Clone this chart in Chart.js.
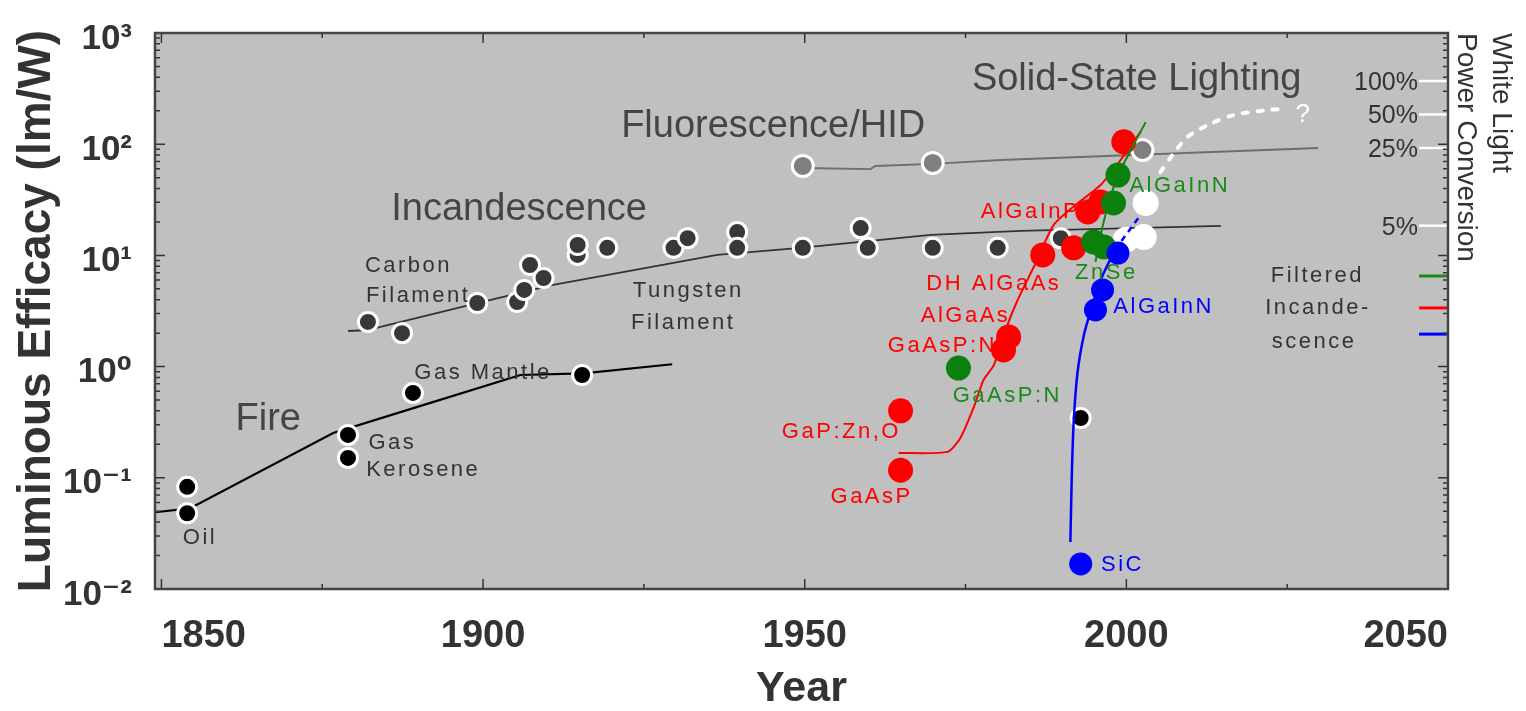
<!DOCTYPE html>
<html>
<head>
<meta charset="utf-8">
<script src="https://cdn.jsdelivr.net/npm/chart.js@4.4.1/dist/chart.umd.min.js"></script>
<style>
  html, body { margin: 0; background: #fff; }
  #wrap { width: 1526px; height: 711px; }
</style>
</head>
<body>
<div id="wrap"><canvas id="efficacyChart" width="1526" height="711"></canvas></div>
<script>
// ---- axis ticks ----
const xTickYears = [1850, 1875, 1900, 1925, 1950, 1975, 2000, 2025, 2050];
const xLabelYears = [1850, 1900, 1950, 2000, 2050];
const yDecades = [0.01, 0.1, 1, 10, 100, 1000];
const yDecadeLabels = ["10\u207B\u00B2", "10\u207B\u00B9", "10\u2070", "10\u00B9", "10\u00B2", "10\u00B3"];
const pctValues = [370, 185, 92.5, 18.5];
const pctLabels = ["100%", "50%", "25%", "5%"];

// ---- Fire ----
const fireLineYears = [1849, 1854.4, 1876.7, 1889.8, 1905.8, 1915.6, 1929.4];
const fireLineValues = [0.049, 0.053, 0.253, 0.434, 0.84, 0.87, 1.05];
const fireDotYears = [1854, 1854, 1879, 1879, 1889.1, 1915.4, 1992.9];
const fireDotValues = [0.083, 0.048, 0.243, 0.151, 0.58, 0.84, 0.345];

// ---- Incandescence ----
const incLineYears = [1879.0, 1882.0, 1899.1, 1910.9, 1936.4, 1949.3, 1969.6, 1983.6, 2014.7];
const incLineValues = [2.09, 2.13, 3.73, 5.42, 10.1, 11.7, 15.3, 16.6, 18.4];
const incDotYears = [1882.1, 1887.4, 1899.1, 1905.3, 1906.4, 1907.3, 1909.4, 1914.7, 1914.7, 1919.3,
                     1929.6, 1931.8, 1939.5, 1939.5, 1949.7, 1958.7, 1959.8, 1969.9, 1980.0, 1989.8];
const incDotValues = [2.52, 2.0, 3.73, 3.81, 4.89, 8.2, 6.26, 10.1, 12.4, 11.7,
                      11.7, 14.3, 16.2, 11.7, 11.7, 17.6, 11.7, 11.7, 11.7, 14.3];

// ---- Fluorescence / HID ----
const fluLineYears = [1949.7, 1960.2, 1961.0, 1969.9, 1980.5, 2029.8];
const fluLineValues = [61.1, 59.8, 63.7, 66.5, 72.1, 92.4];
const fluDotYears = [1949.7, 1969.9, 2002.5];
const fluDotValues = [63.7, 67.8, 88.7];

// ---- Solid-state lighting ----
const futureYears = [2005.3, 2007.4, 2009.5, 2012.7, 2016.7, 2022.0, 2024.3];
const futureValues = [56.2, 83.4, 116, 149, 183, 203, 208];
const whiteDotYears = [2003.0, 2002.7, 1999.9];
const whiteDotValues = [29.6, 14.6, 13.8];

const redLineYears = [1964.6, 1972.2, 1974.2, 1976.3, 1977.8, 1979.4, 1981.2, 1983.1, 1985.6, 1988.7, 1992.1, 1996.0, 1999.1, 2002.2];
const redLineValues = [0.167, 0.171, 0.228, 0.434, 0.759, 1.03, 2.13, 3.97, 7.87, 18.8, 28.4, 43.0, 72.1, 129];
const redDotYears = [1964.9, 1964.9, 1980.9, 1981.7, 1987.0, 1991.8, 1994.0, 1996.0, 1999.6];
const redDotValues = [0.117, 0.4, 1.41, 1.85, 10.1, 11.7, 24.6, 30.2, 105];

const greenLineYears = [1995.2, 1996.0, 1997.6, 1999.1, 2003.0];
const greenLineValues = [8.73, 15.3, 34.9, 58.6, 158];
const greenDotYears = [1973.9, 1994.9, 1996.5, 1998.0, 1998.7];
const greenDotValues = [0.97, 13.2, 11.9, 29.6, 52.8];

const blueLineYears = [1991.3, 1991.5, 1991.8, 1992.4, 1993.4, 1994.5, 1996.0, 1998.3, 2002.2];
const blueLineValues = [0.0265, 0.0955, 0.311, 0.875, 1.92, 3.23, 6.0, 11.2, 23.1];
const blueDotYears = [1992.9, 1995.2, 1996.3, 1998.7];
const blueDotValues = [0.0168, 3.23, 4.89, 10.5];

// ---- right-hand key ----
const keyYears = [2045.5, 2050];
const keyValues = [6.53, 3.37, 1.96];

// ---- annotations (anchored in data coordinates) ----
const annoTexts = ["Fire", "Incandescence", "Fluorescence/HID", "Solid-State Lighting",
  "Oil", "Gas", "Kerosene", "Gas Mantle", "Carbon", "Filament", "Tungsten", "Filament",
  "Filtered", "Incande-", "scence",
  "AlGaInP", "DH AlGaAs", "AlGaAs", "GaAsP:N", "GaP:Zn,O", "GaAsP",
  "AlGaInN", "ZnSe", "GaAsP:N",
  "AlGaInN", "SiC", "?"];
const annoYears = [1866.6, 1905.6, 1945.1, 2001.6,
  1856.0, 1885.9, 1890.7, 1900.0, 1888.4, 1889.9, 1931.9, 1931.1,
  2029.7, 2029.8, 2029.2,
  1985.1, 1979.4, 1975.0, 1971.4, 1955.7, 1960.4,
  2008.3, 1996.9, 1981.5,
  2005.8, 1999.4, 2027.4];
const annoValues = [0.331, 25.6, 143, 378,
  0.0288, 0.206, 0.117, 0.875, 8.03, 4.31, 4.79, 2.47,
  6.53, 3.37, 1.66,
  24.6, 5.53, 2.85, 1.53, 0.258, 0.0671,
  42.1, 6.95, 0.545,
  3.44, 0.0164, 183];
const annoKinds = ["big", "big", "big", "big",
  "small", "small", "small", "small", "small", "small", "small", "small",
  "small", "small", "small",
  "red", "red", "red", "red", "red", "red",
  "green", "green", "green",
  "blue", "blue", "white"];

const FONT = "'Liberation Sans', Arial, 'DejaVu Sans', sans-serif";
const annoStyles = {
  big:   { color: "#454545", size: 38, spacing: "0px" },
  small: { color: "#333333", size: 22, spacing: "2.5px" },
  red:   { color: "#ff0000", size: 22, spacing: "2.5px" },
  green: { color: "#1a8a1a", size: 22, spacing: "2.5px" },
  blue:  { color: "#0000ff", size: 22, spacing: "2.5px" },
  white: { color: "#ffffff", size: 26, spacing: "0px" },
};

function pts(xs, ys) {
  return xs.map((x, i) => ({ x: x, y: ys[i] }));
}

function lineSet(xs, ys, color, width, extra) {
  return Object.assign({
    data: pts(xs, ys),
    showLine: true,
    borderColor: color,
    borderWidth: width,
    pointRadius: 0,
    tension: 0.2,
    fill: false,
  }, extra || {});
}

function dotSet(xs, ys, color, radius, ring) {
  return {
    data: pts(xs, ys),
    showLine: false,
    pointRadius: radius,
    backgroundColor: color,
    borderColor: ring ? "#ffffff" : color,
    borderWidth: ring ? 3 : 0,
  };
}

// minor log ticks: 1..9 x each decade
const yTickValues = [];
yDecades.slice(0, -1).forEach(d => {
  for (let m = 1; m <= 9; m++) yTickValues.push(+(d * m).toPrecision(3));
});
yTickValues.push(1000);

// bottom -> top
const layers = [
  lineSet(fireLineYears, fireLineValues, "#000000", 2.2, { tension: 0 }),
  lineSet(incLineYears, incLineValues, "#333333", 1.8, { tension: 0 }),
  lineSet(fluLineYears, fluLineValues, "#6e6e6e", 1.8, { tension: 0 }),
  ...pctValues.map(v => lineSet(keyYears, [v, v], "#ffffff", 2.5, { tension: 0 })),
  lineSet(keyYears, [keyValues[0], keyValues[0]], "#1a8a1a", 3, { tension: 0 }),
  lineSet(keyYears, [keyValues[1], keyValues[1]], "#ff0000", 3, { tension: 0 }),
  lineSet(keyYears, [keyValues[2], keyValues[2]], "#0000ff", 3, { tension: 0 }),
  dotSet(fireDotYears, fireDotValues, "#000000", 9.5, true),
  dotSet(incDotYears, incDotValues, "#383838", 9.5, true),
  dotSet(fluDotYears, fluDotValues, "#808080", 10.5, true),
  dotSet(whiteDotYears, whiteDotValues, "#ffffff", 13, false),
  lineSet(futureYears, futureValues, "#ffffff", 4, { borderDash: [5, 10], borderCapStyle: "round", tension: 0.3 }),
  lineSet(redLineYears, redLineValues, "#ff0000", 2),
  dotSet(redDotYears, redDotValues, "#ff0000", 12.5, false),
  lineSet(greenLineYears, greenLineValues, "#118811", 2),
  dotSet(greenDotYears, greenDotValues, "#0c800c", 12.5, false),
  lineSet(blueLineYears, blueLineValues, "#0000ff", 2.5, {
    segment: { borderDash: c => (c.p0DataIndex >= 7 ? [6, 5] : undefined) },
  }),
  dotSet(blueDotYears, blueDotValues, "#0000ff", 11.5, false),
];
layers.forEach((d, i) => { d.order = layers.length - i; });

// plot background, frame, inward tick marks, percent labels and text annotations
const framePlugin = {
  id: "frame",
  beforeDraw(chart) {
    const { ctx, chartArea: a } = chart;
    ctx.save();
    ctx.fillStyle = "#c0c0c0";
    ctx.fillRect(a.left, a.top, a.right - a.left, a.bottom - a.top);
    ctx.restore();
  },
  afterDatasetsDraw(chart) {
    const { ctx, chartArea: a, scales } = chart;
    ctx.save();

    // ticks pointing into the plot
    ctx.strokeStyle = "#333333";
    ctx.lineWidth = 1.5;
    ctx.beginPath();
    scales.x.ticks.forEach(t => {
      const px = scales.x.getPixelForValue(t.value);
      const len = xLabelYears.includes(t.value) ? 10 : 5;
      ctx.moveTo(px, a.bottom); ctx.lineTo(px, a.bottom - len);
      ctx.moveTo(px, a.top); ctx.lineTo(px, a.top + len);
    });
    scales.y.ticks.forEach(t => {
      const py = scales.y.getPixelForValue(t.value);
      const len = yDecades.includes(t.value) ? 10 : 5;
      ctx.moveTo(a.left, py); ctx.lineTo(a.left + len, py);
      ctx.moveTo(a.right, py); ctx.lineTo(a.right - len, py);
    });
    ctx.stroke();

    ctx.strokeStyle = "#444444";
    ctx.lineWidth = 2.5;
    ctx.strokeRect(a.left, a.top, a.right - a.left, a.bottom - a.top);

    // percent labels of the right axis, inside the plot
    ctx.font = "25px " + FONT;
    ctx.fillStyle = "#333333";
    ctx.textAlign = "right";
    ctx.textBaseline = "middle";
    scales.y2.ticks.forEach(t => {
      ctx.fillText(t.label, a.right - 30, scales.y2.getPixelForValue(t.value) + 2);
    });

    // annotations
    ctx.textAlign = "center";
    annoTexts.forEach((txt, i) => {
      const st = annoStyles[annoKinds[i]];
      ctx.font = st.size + "px " + FONT;
      ctx.fillStyle = st.color;
      if ("letterSpacing" in ctx) ctx.letterSpacing = st.spacing;
      ctx.fillText(txt, scales.x.getPixelForValue(annoYears[i]), scales.y.getPixelForValue(annoValues[i]));
    });
    if ("letterSpacing" in ctx) ctx.letterSpacing = "0px";
    ctx.restore();
  },
};

Chart.defaults.font.family = FONT;

new Chart(document.getElementById("efficacyChart"), {
  type: "scatter",
  data: { datasets: layers },
  options: {
    responsive: false,
    animation: false,
    layout: { padding: { top: 33, left: 0, right: 0, bottom: 0 } },
    plugins: {
      legend: { display: false },
      tooltip: { enabled: false },
    },
    scales: {
      x: {
        type: "linear",
        position: "bottom",
        min: 1849,
        max: 2050,
        afterBuildTicks: s => { s.ticks = xTickYears.map(v => ({ value: v })); },
        afterFit: s => { s.height = 122; s.paddingLeft = 0; s.paddingRight = 0; },
        grid: { display: false },
        border: { display: false },
        ticks: {
          autoSkip: false,
          maxRotation: 0,
          minRotation: 0,
          align: "inner",
          padding: 17,
          color: "#333333",
          font: { size: 38, weight: "bold" },
          callback: v => (xLabelYears.includes(v) ? String(v) : ""),
        },
        title: {
          display: true,
          text: "Year",
          color: "#333333",
          font: { size: 43, weight: "bold", lineHeight: 1 },
          padding: { top: 0, bottom: 0 },
        },
      },
      y: {
        type: "logarithmic",
        position: "left",
        min: 0.01,
        max: 1000,
        afterBuildTicks: s => { s.ticks = yTickValues.map(v => ({ value: v })); },
        afterFit: s => { s.width = 155; s.paddingTop = 0; s.paddingBottom = 0; },
        grid: { display: false },
        border: { display: false },
        ticks: {
          autoSkip: false,
          padding: 15,
          labelOffset: 6,
          color: "#333333",
          font: { size: 35, weight: "bold" },
          callback: v => {
            const k = yDecades.indexOf(v);
            return k >= 0 ? yDecadeLabels[k] : "";
          },
        },
        title: {
          display: true,
          text: "Luminous Efficacy (lm/W)",
          color: "#333333",
          font: { size: 46, weight: "bold", lineHeight: 1.2 },
          padding: { top: 10, bottom: 0 },
        },
      },
      y2: {
        type: "logarithmic",
        position: "right",
        min: 0.01,
        max: 1000,
        afterBuildTicks: s => { s.ticks = pctValues.map(v => ({ value: v })); },
        afterFit: s => { s.width = 78; s.paddingTop = 0; s.paddingBottom = 0; },
        grid: { display: false },
        border: { display: false },
        ticks: {
          display: false,
          autoSkip: false,
          callback: (v, i) => pctLabels[i],
        },
        title: {
          display: true,
          text: ["White Light", "Power Conversion"],
          align: "end",
          color: "#333333",
          font: { size: 28, lineHeight: 1.25 },
          padding: { top: 8, bottom: 0 },
        },
      },
    },
  },
  plugins: [framePlugin],
});
</script>
</body>
</html>
